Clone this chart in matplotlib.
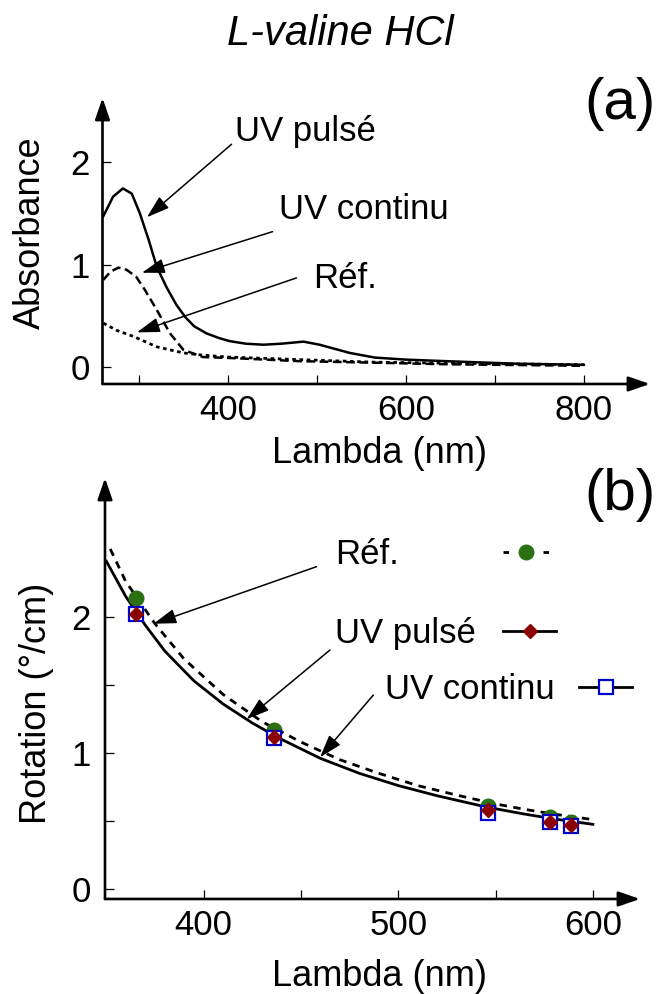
import matplotlib
matplotlib.use("Agg")
import matplotlib.pyplot as plt
from matplotlib.lines import Line2D
from matplotlib.legend import Legend

plt.rcParams['font.family'] = ['Liberation Sans', 'DejaVu Sans']

# (a) absorbance spectra
lam_pulse = [260, 271, 282, 292, 301, 311, 320, 331, 342, 352, 362, 376, 390, 402, 420, 440, 460, 485, 503, 520, 537, 565, 600, 645, 725, 800]
abs_pulse = [1.47, 1.66, 1.74, 1.69, 1.50, 1.24, 0.98, 0.78, 0.61, 0.49, 0.40, 0.33, 0.285, 0.255, 0.23, 0.22, 0.23, 0.25, 0.22, 0.18, 0.14, 0.095, 0.075, 0.06, 0.035, 0.025]

lam_cont = [260, 268, 277, 286, 297, 307, 320, 335, 350, 372, 405, 480, 565, 645, 800]
abs_cont = [0.85, 0.93, 0.97, 0.95, 0.88, 0.75, 0.56, 0.33, 0.17, 0.10, 0.09, 0.06, 0.045, 0.03, 0.015]

lam_ref = [260, 275, 294, 320, 350, 370, 400, 450, 480, 565, 650, 800]
abs_ref = [0.43, 0.36, 0.30, 0.20, 0.14, 0.12, 0.10, 0.085, 0.075, 0.05, 0.04, 0.025]

# (b) optical rotation
lam_pts = [365, 436, 546, 578, 589]
rot_ref = [2.14, 1.17, 0.61, 0.53, 0.49]
rot_pulse = [2.02, 1.12, 0.58, 0.49, 0.47]
rot_cont = [2.02, 1.11, 0.56, 0.49, 0.46]

lam_fit = [350, 360, 370, 380, 395, 410, 425, 440, 460, 480, 500, 520, 546, 565, 580, 600]
fit_pulse = [2.41, 2.15, 1.94, 1.75, 1.53, 1.36, 1.22, 1.10, 0.96, 0.85, 0.76, 0.685, 0.60, 0.55, 0.515, 0.475]
lam_fit_ref = [352, 360, 375, 390, 410, 430, 450, 470, 490, 510, 530, 550, 565, 580, 600]
fit_ref = [2.50, 2.26, 1.95, 1.69, 1.43, 1.23, 1.08, 0.95, 0.85, 0.76, 0.69, 0.625, 0.585, 0.55, 0.51]

green = '#2b7012'
red = '#8b0000'
blue = '#0000cc'


def arrow_axes(ax):
    for s in ax.spines.values():
        s.set_visible(False)
    props = dict(arrowstyle='-|>,head_length=1.3,head_width=0.45', mutation_scale=10,
                 lw=1.9, color='black', shrinkA=0, shrinkB=0)
    ax.annotate('', xy=(1, 0), xytext=(0, 0), xycoords='axes fraction',
                textcoords='axes fraction', arrowprops=props)
    ax.annotate('', xy=(0, 1), xytext=(0, 0), xycoords='axes fraction',
                textcoords='axes fraction', arrowprops=props)


def pointer(ax, tail, head):
    ax.annotate('', xy=head, xytext=tail,
                arrowprops=dict(arrowstyle='-|>,head_length=1.4,head_width=0.45',
                                mutation_scale=10, lw=1.1, color='black',
                                shrinkA=0, shrinkB=0))


fig = plt.figure(figsize=(6.57, 9.94), dpi=100)

# ---- panel (a)
ax1 = fig.add_axes([0.1560, 0.6137, 0.8333, 0.2877])
ax1.plot(lam_pulse, abs_pulse, color='black', lw=1.8)
ax1.plot(lam_cont, abs_cont, color='black', lw=1.8, ls=(0, (3.5, 1.8)))
ax1.plot(lam_ref, abs_ref, color='black', lw=2, ls=(0, (1.3, 1.3)))
ax1.set_xlim(259.1, 874.3)
ax1.set_ylim(-0.162, 2.62)
ax1.set_xticks([400, 600, 800])
ax1.set_xticks([300, 500, 700], minor=True)
ax1.set_yticks([0, 1, 2])
ax1.tick_params(which='both', direction='in', length=6.5, width=0.9, labelsize=25)
ax1.tick_params(axis='x', pad=7)
ax1.tick_params(axis='y', pad=9)
arrow_axes(ax1)
ax1.set_xlabel('Lambda (nm)', fontsize=26, va='top')
ax1.xaxis.set_label_coords(0.5056, -0.182)
ax1.set_ylabel('Absorbance', fontsize=26)
ax1.yaxis.set_label_coords(-0.1005, 0.530)

ax1.text(407.6, 2.20, 'UV pulsé', fontsize=25, va='baseline')
ax1.text(458, 1.44, 'UV continu', fontsize=25, va='baseline')
ax1.text(496, 0.776, 'Réf.', fontsize=25, va='baseline')
pointer(ax1, (404.1, 2.17), (309, 1.46))
pointer(ax1, (450.2, 1.32), (303.4, 0.92))
pointer(ax1, (477.1, 0.87), (297.8, 0.34))

# ---- panel (b)
ax2 = fig.add_axes([0.1598, 0.0956, 0.8143, 0.4235])
ax2.plot(lam_fit, fit_pulse, color='black', lw=2)
ax2.plot(lam_fit_ref, fit_ref, color='black', lw=2, ls=(0, (2.7, 2.3)))
ax2.plot(lam_pts, rot_ref, ls='none', marker='o', ms=10.5, mfc=green, mec=green)
ax2.plot(lam_pts, rot_cont, ls='none', marker='s', ms=10, mfc='white', mec=blue, mew=1.6)
ax2.plot(lam_pts, rot_pulse, ls='none', marker='D', ms=7.3, mfc=red, mec=red)
ax2.set_xlim(349.3, 624.2)
ax2.set_ylim(-0.074, 3.022)
ax2.set_xticks([400, 500, 600])
ax2.set_xticks([450, 550], minor=True)
ax2.set_yticks([0, 1, 2])
ax2.set_yticks([0.5, 1.5], minor=True)
ax2.tick_params(which='both', direction='in', length=6.5, width=0.9, labelsize=25)
ax2.tick_params(axis='x', pad=7)
ax2.tick_params(axis='y', pad=10)
arrow_axes(ax2)
ax2.set_xlabel('Lambda (nm)', fontsize=26, va='top')
ax2.xaxis.set_label_coords(0.5127, -0.143)
ax2.set_ylabel('Rotation (°/cm)', fontsize=26)
ax2.yaxis.set_label_coords(-0.095, 0.464)

h_ref = Line2D([], [], color='black', lw=2, dashes=(2, 5.2), marker='o', ms=10.5, mfc=green, mec=green)
h_pulse = Line2D([], [], color='black', lw=2, marker='D', ms=7.3, mfc=red, mec=red)
h_cont = Line2D([], [], color='black', lw=2, marker='s', ms=10, mfc='white', mec=blue, mew=1.6)

entries = [(h_ref, 'Réf.', (467.5, 2.456), 1.33, 3.0),
           (h_pulse, 'UV pulsé', (467.5, 1.875), 1.53, 0.78),
           (h_cont, 'UV continu', (493.2, 1.463), 1.53, 0.70)]
for h, lab, pos, hl, hp in entries:
    leg = Legend(ax2, [h], [lab], loc='center left', bbox_to_anchor=pos,
                 bbox_transform=ax2.transData, frameon=False, fontsize=25,
                 markerfirst=False, numpoints=1, handlelength=hl,
                 handletextpad=hp, borderpad=0, borderaxespad=0)
    ax2.add_artist(leg)

pointer(ax2, (458.0, 2.37), (374.2, 1.95))
pointer(ax2, (464.9, 1.757), (422.1, 1.248))
pointer(ax2, (487.2, 1.426), (459.8, 0.968))

fig.text(340.8 / 657, 1 - 45 / 994, 'L-valine HCl', style='italic', fontsize=30,
         ha='center', va='baseline')
fig.text(620 / 657, 1 - 104 / 994, '(a)', fontsize=42, ha='center', va='center')
fig.text(620 / 657, 1 - 495 / 994, '(b)', fontsize=42, ha='center', va='center')

fig.savefig('out.png', dpi=100)
